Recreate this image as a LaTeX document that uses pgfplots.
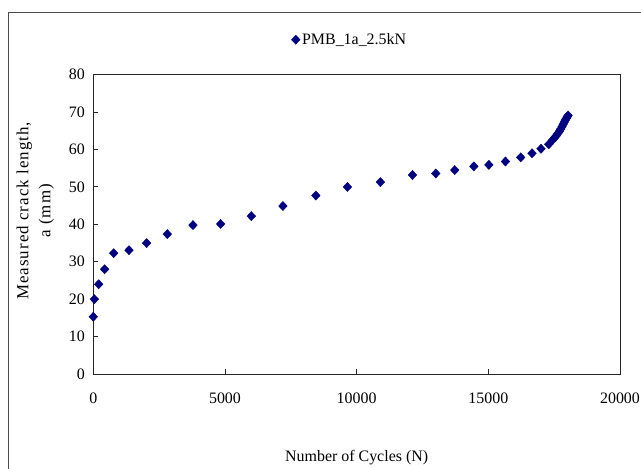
\documentclass[border=0pt]{standalone}
\usepackage{fontspec}
\setmainfont{Liberation Serif}
\usepackage{pgfplots}
\pgfplotsset{compat=1.18}
\definecolor{navy}{rgb}{0,0,0.5}
\begin{document}
\begin{tikzpicture}
\useasboundingbox (0bp,0bp) rectangle (641bp,469bp);
\draw[black!70, line width=1bp] (8bp,0bp) -- (8bp,456.5bp) -- (641bp,456.5bp);
\begin{axis}[
  at={(93.3bp,95bp)}, anchor=south west,
  scale only axis, width=526.7bp, height=299.3bp,
  xmin=0, xmax=20000, ymin=0, ymax=80,
  xtick={0,5000,10000,15000,20000},
  ytick={0,10,...,80},
  tick pos=left, tick align=inside,
  major tick length=4.5bp,
  axis line style={line width=1bp, black!85},
  every tick/.style={black!85, line width=0.9bp},
  scaled x ticks=false,
  /pgf/number format/assume math mode=true,
  /pgf/number format/1000 sep={},
  tick label style={font=\fontsize{16}{18}\selectfont},
  xticklabel shift=15bp,
  yticklabel shift=5bp,
  xlabel={Number of Cycles (N)},
  xlabel style={font=\fontsize{16}{18}\selectfont, at={(axis description cs:0.5,-0.281)}, anchor=center},
  ylabel={\begin{tabular}{@{}c@{}}Measured crack length,\\a (mm)\end{tabular}},
  ylabel style={font=\fontsize{17}{22}\selectfont\addfontfeature{LetterSpace=6},
    at={(axis description cs:-0.1107,0.545)}, anchor=center},
  legend style={draw=none, fill=none, at={(axis description cs:0.487,1.117)}, anchor=center,
    font=\fontsize{16}{18}\selectfont, legend cell align=left},
]
\addplot[only marks, mark=diamond*, mark size=4.6bp, color=navy,
  mark options={xscale=1.25, fill=navy, draw=navy}] coordinates {
(0,15.3)
(40,20.0)
(205,24.0)
(430,28.0)
(775,32.3)
(1355,33.1)
(2025,35.0)
(2810,37.4)
(3785,39.8)
(4835,40.1)
(6000,42.2)
(7200,44.9)
(8450,47.7)
(9650,50.0)
(10900,51.3)
(12120,53.2)
(13005,53.6)
(13725,54.5)
(14450,55.5)
(15020,55.9)
(15650,56.8)
(16230,57.9)
(16660,59.0)
(17000,60.2)
(17295,61.4)
(17450,62.6)
(17520,63.2)
(17580,63.7)
(17640,64.3)
(17700,64.9)
(17750,65.5)
(17800,66.1)
(17840,66.7)
(17880,67.3)
(17920,67.8)
(17960,68.3)
(18000,68.8)
(18030,69.1)
};
\addlegendentry{PMB\_1a\_2.5kN}
\end{axis}
\end{tikzpicture}
\end{document}
